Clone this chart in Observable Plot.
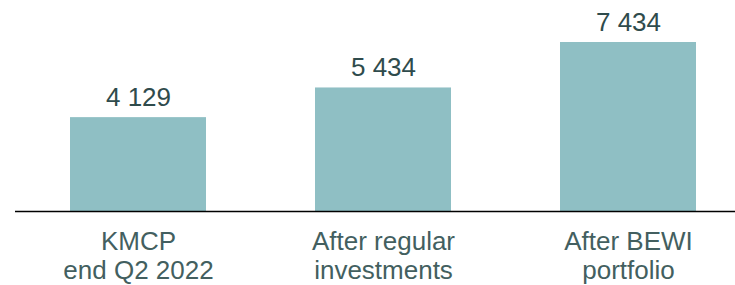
<!DOCTYPE html>
<html><head><meta charset="utf-8">
<script src="https://cdn.jsdelivr.net/npm/d3@7"></script>
<script src="https://cdn.jsdelivr.net/npm/@observablehq/plot@0.6"></script>
<style>body{margin:0;background:#fff} svg{display:block}</style>
</head><body><div id="chart"></div>
<script>
const categories = ["KMCP\nend Q2 2022", "After regular\ninvestments", "After BEWI\nportfolio"];
const values = [4129, 5434, 7434];
const data = categories.map((c, i) => ({category: c, value: values[i]}));
const fmt = v => d3.format(",")(v).replace(/,/g, " ");
const chart = Plot.plot({
  width: 735, height: 285, marginLeft: 15, marginRight: 0, marginTop: 42, marginBottom: 74,
  style: {fontFamily: "'Liberation Sans', Arial, sans-serif", background: "#fff", overflow: "visible"},
  x: {domain: categories, range: [15.5, 750.5], paddingInner: 0.445, paddingOuter: 0.2225, axis: null},
  y: {domain: [0, 7434], axis: null},
  marks: [
    Plot.barY(data, {x: "category", y: "value", fill: "#8FBFC4"}),
    Plot.ruleY([0], {stroke: "#000", strokeWidth: 1.6}),
    Plot.text(data, {x: "category", y: "value", text: d => fmt(d.value), lineAnchor: "bottom", dy: -12, fontSize: 26, fill: "#2f4b4c"}),
    Plot.text(data, {x: "category", y: 0, text: "category", lineAnchor: "top", dy: 19, fontSize: 26, lineHeight: 1.08, fill: "#435f60"})
  ]
});
document.getElementById("chart").append(chart);
</script>
</body></html>
